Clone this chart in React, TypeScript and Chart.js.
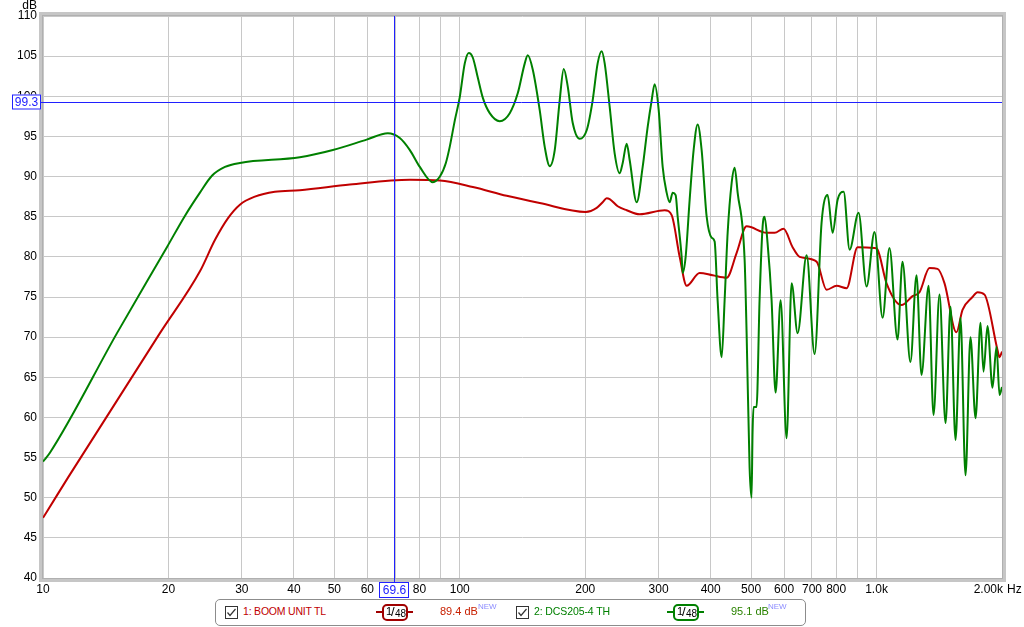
import React, { useEffect, useRef } from 'react';
import { Chart, registerables } from 'chart.js';

Chart.register(...registerables);

const W = 1024;
const H = 627;
const FONT = "'Liberation Sans', Arial, sans-serif";

// Series 2: DCS205-4 TH (green)
const freqGreen = [10, 10.39, 15.05, 19.83, 21.9, 23.8, 25.43, 27.33, 29.68, 41.33, 49.6, 59.8, 67.2, 71.8, 75.9, 80.2, 86.2, 89.6, 92.6, 94.6, 97.3, 100, 102.8, 105.1, 107.5, 110.5, 113.6, 118.0, 124.7, 131.8, 137.8, 143.2, 145.6, 149.7, 155.5, 159.9, 164.4, 169.0, 173.7, 177.6, 181.6, 186.6, 194.0, 201.7, 208.4, 214.2, 219.0, 222.7, 228.9, 235.3, 241.9, 246.0, 251.5, 255.6, 265.8, 274.7, 282.4, 288.7, 293.5, 300.1, 306.8, 313.6, 318.9, 324.2, 329.6, 333.3, 340.7, 342.6, 348.3, 356.1, 364.0, 372.2, 380.5, 391.2, 402.0, 408.8, 415.6, 425.0, 432.0, 439.3, 449.1, 456.6, 464.2, 482.5, 487.8, 495.9, 501.3, 504.1, 506.9, 515.3, 524.0, 532.8, 538.7, 547.7, 560.0, 572.5, 588.6, 608.4, 625.5, 646.6, 679.5, 710.2, 738.2, 763.1, 784.5, 806.5, 833.7, 861.8, 905.5, 946.3, 989.0, 1034, 1074, 1123, 1154, 1206, 1247, 1282, 1333, 1370, 1416, 1464, 1505, 1547, 1590, 1635, 1680, 1728, 1776, 1806, 1846, 1898, 1940, 1973, 2000];
const dbGreen = [54.5, 55.6, 70.5, 81.2, 85.1, 88.0, 90.1, 91.2, 91.7, 92.4, 93.3, 94.6, 95.4, 94.8, 93.3, 91.2, 89.3, 90.0, 91.7, 93.7, 97.0, 99.9, 104.1, 105.4, 104.8, 102.3, 99.8, 97.9, 96.9, 97.9, 100.4, 104.1, 105.1, 103.3, 98.3, 93.7, 91.3, 93.3, 99.5, 103.4, 101.2, 96.7, 94.7, 95.8, 99.5, 104.1, 105.6, 104.1, 98.7, 92.9, 90.4, 91.7, 94.1, 92.1, 86.8, 91.2, 96.2, 99.5, 101.5, 98.3, 91.2, 88.0, 86.8, 88.0, 87.7, 85.0, 80.0, 78.0, 80.0, 87.1, 93.3, 96.5, 93.3, 85.0, 82.4, 81.9, 74.6, 67.5, 74.6, 83.0, 89.2, 91.1, 88.0, 79.6, 70.5, 53.8, 50.0, 58.1, 61.3, 61.3, 74.6, 83.7, 85.0, 81.7, 74.6, 63.1, 74.6, 57.4, 76.7, 70.5, 80.2, 67.9, 84.3, 87.7, 83.0, 87.1, 88.1, 80.9, 85.5, 76.3, 83.1, 72.4, 81.1, 69.7, 79.4, 66.9, 77.7, 65.3, 76.4, 60.3, 75.3, 59.3, 73.8, 57.2, 72.4, 52.8, 70.0, 59.9, 71.8, 65.7, 71.4, 63.7, 68.8, 62.8, 63.8];

// Series 1: BOOM UNIT TL (red)
const freqRed = [10, 10.17, 11.48, 19.08, 23.8, 25.85, 27.77, 29.68, 32.24, 36.0, 41.33, 54.5, 75.9, 89.6, 107.5, 129.6, 155.5, 200.5, 213.1, 220.2, 225.1, 228.9, 239.3, 251.5, 270.2, 310.2, 322.4, 337.0, 350.3, 376.3, 404.4, 436.9, 461.7, 487.8, 544.7, 569.4, 598.4, 628.9, 653.8, 718.0, 758.9, 802.1, 847.7, 900.6, 989.0, 1005.5, 1057, 1148, 1220, 1268, 1340, 1401, 1456, 1555, 1608, 1699, 1747, 1816, 1951, 1973, 2000];
const dbRed = [47.5, 48.1, 52.5, 70.5, 78.2, 82.1, 84.8, 86.5, 87.5, 88.1, 88.3, 89.0, 89.6, 89.5, 88.7, 87.6, 86.7, 85.6, 86.1, 86.8, 87.3, 87.2, 86.3, 85.8, 85.3, 85.8, 85.2, 80.0, 76.4, 78.0, 77.7, 77.4, 80.5, 83.8, 83.0, 83.0, 83.5, 81.2, 80.0, 79.4, 75.9, 76.4, 76.1, 81.2, 81.1, 80.9, 76.7, 74.0, 75.1, 75.6, 78.6, 78.5, 76.7, 70.6, 73.4, 75.0, 75.6, 75.3, 68.4, 67.5, 68.2];

const xTickValues = [10, 20, 30, 40, 50, 60, 70, 80, 90, 100, 200, 300, 400, 500, 600, 700, 800, 900, 1000, 2000];
const xTickLabels = ['10', '20', '30', '40', '50', '60', '70', '80', '', '100', '200', '300', '400', '500', '600', '700', '800', '', '1.0k', ''];
const yTickValues = [40, 45, 50, 55, 60, 65, 70, 75, 80, 85, 90, 95, 100, 105, 110];

const cursorFreq = 69.6;
const cursorDb = 99.3;

const RED = '#c00000';
const GREEN = '#008000';
const BLUE = '#2020ff';

const overlayPlugin = {
  id: 'overlay',
  afterDraw(chart: any) {
    const { ctx, chartArea: a, scales } = chart;
    ctx.save();
    // frame
    ctx.strokeStyle = '#c6c6c6';
    ctx.lineWidth = 4;
    ctx.strokeRect(a.left - 2, a.top - 2, a.right - a.left + 4, a.bottom - a.top + 4);
    ctx.strokeStyle = '#b0b0b0';
    ctx.lineWidth = 1;
    ctx.strokeRect(a.left - 0.5, a.top - 0.5, a.right - a.left + 1, a.bottom - a.top + 1);

    // cursor lines
    const cx = Math.round(scales.x.getPixelForValue(cursorFreq)) + 0.5;
    const cy = Math.round(scales.y.getPixelForValue(cursorDb)) + 0.5;
    ctx.strokeStyle = BLUE;
    ctx.lineWidth = 1;
    ctx.beginPath();
    ctx.moveTo(cx, a.top);
    ctx.lineTo(cx, a.bottom + 5);
    ctx.stroke();
    ctx.beginPath();
    ctx.moveTo(a.left - 2, cy);
    ctx.lineTo(a.right, cy);
    ctx.stroke();

    ctx.font = `12px ${FONT}`;
    ctx.textAlign = 'center';
    ctx.textBaseline = 'middle';
    // y cursor label
    ctx.fillStyle = '#fff';
    ctx.fillRect(12, cy - 8, 29, 15);
    ctx.strokeRect(12.5, cy - 7.5, 28, 14);
    ctx.fillStyle = BLUE;
    ctx.fillText(String(cursorDb), 26.5, cy + 0.5);
    // x cursor label
    ctx.fillStyle = '#fff';
    ctx.fillRect(cx - 15.5, a.bottom + 4, 30, 16);
    ctx.strokeRect(cx - 15, a.bottom + 4.5, 29, 15);
    ctx.fillStyle = BLUE;
    ctx.fillText(String(cursorFreq), cx, a.bottom + 12.5);

    // axis unit labels
    ctx.fillStyle = '#000';
    ctx.textAlign = 'right';
    ctx.fillText('dB', 37, 6);
    ctx.fillText('2.00k', a.right + 1, a.bottom + 12);
    ctx.textAlign = 'left';
    ctx.fillText('Hz', a.right + 5, a.bottom + 12);
    ctx.restore();
  },
};

function CheckBox({ left }: { left: number }) {
  return (
    <svg width={13} height={13} style={{ position: 'absolute', left, top: 6 }}>
      <rect x={0.5} y={0.5} width={12} height={12} fill="#fff" stroke="#333" strokeWidth={1} />
      <polyline points="2.5,6.5 5,9.5 10.5,3" fill="none" stroke="#333" strokeWidth={1.2} />
    </svg>
  );
}

function Badge({ left, color }: { left: number; color: string }) {
  return (
    <div style={{ position: 'absolute', left, top: 4, width: 37, height: 17 }}>
      <div style={{ position: 'absolute', left: 0, top: 7, width: 37, height: 2, background: color }} />
      <div
        style={{
          position: 'absolute', left: 6, top: 0, width: 26, height: 17, boxSizing: 'border-box',
          border: `2px solid ${color}`, borderRadius: 5, background: '#fff',
        }}
      >
        <span style={{ position: 'absolute', left: 2, top: -1, fontSize: 11, lineHeight: '12px', color: '#000', fontFamily: FONT }}>1</span>
        <span style={{ position: 'absolute', left: 7, top: -1, fontSize: 13, lineHeight: '14px', color: '#000', fontFamily: FONT }}>/</span>
        <span style={{ position: 'absolute', left: 11, top: 2, fontSize: 10, lineHeight: '12px', color: '#000', fontFamily: FONT }}>48</span>
      </div>
    </div>
  );
}

export default function App() {
  const ref = useRef<HTMLCanvasElement>(null);

  useEffect(() => {
    document.body.style.margin = '0';
    const canvas = ref.current;
    if (!canvas) return;
    const greenData = freqGreen.map((f, i) => ({ x: f, y: dbGreen[i] }));
    const redData = freqRed.map((f, i) => ({ x: f, y: dbRed[i] }));
    const chart = new Chart(canvas, {
      type: 'line',
      data: {
        datasets: [
          {
            label: '2: DCS205-4 TH',
            data: greenData,
            borderColor: GREEN,
            borderWidth: 2,
            pointRadius: 0,
            cubicInterpolationMode: 'monotone',
            order: 0,
          },
          {
            label: '1: BOOM UNIT TL',
            data: redData,
            borderColor: RED,
            borderWidth: 2,
            pointRadius: 0,
            cubicInterpolationMode: 'monotone',
            order: 1,
          },
        ],
      },
      options: {
        responsive: false,
        animation: false,
        devicePixelRatio: 1,
        layout: { padding: { left: 0, right: 22, top: 16, bottom: 0 } },
        plugins: { legend: { display: false }, tooltip: { enabled: false } },
        scales: {
          x: {
            type: 'logarithmic',
            min: 10,
            max: 2000,
            afterBuildTicks: (s: any) => {
              s.ticks = xTickValues.map((v) => ({ value: v }));
            },
            afterFit: (s: any) => {
              s.height = 49;
            },
            grid: { color: '#c8c8c8', lineWidth: 1, drawTicks: false },
            border: { display: false },
            ticks: {
              autoSkip: false,
              maxRotation: 0,
              padding: 4,
              color: '#000',
              font: { family: FONT, size: 12 },
              callback: (v: any) => {
                const i = xTickValues.indexOf(Number(v));
                return i >= 0 ? xTickLabels[i] : '';
              },
            },
          },
          y: {
            type: 'linear',
            min: 40,
            max: 110,
            afterBuildTicks: (s: any) => {
              s.ticks = yTickValues.map((v) => ({ value: v }));
            },
            afterFit: (s: any) => {
              s.width = 43;
            },
            grid: { color: '#c8c8c8', lineWidth: 1, drawTicks: false },
            border: { display: false },
            ticks: {
              padding: 6,
              color: '#000',
              font: { family: FONT, size: 12 },
              callback: (v: any) => String(v),
            },
          },
        },
      },
      plugins: [overlayPlugin],
    } as any);
    return () => chart.destroy();
  }, []);

  const txt = (extra: any) => ({
    position: 'absolute' as const,
    top: 5,
    fontFamily: FONT,
    fontSize: 11,
    lineHeight: '13px',
    whiteSpace: 'nowrap' as const,
    ...extra,
  });

  return (
    <div style={{ position: 'relative', width: W, height: H, background: '#fff', overflow: 'hidden' }}>
      <canvas ref={ref} width={W} height={H} style={{ position: 'absolute', left: 0, top: 0, width: W, height: H }} />
      <div
        style={{
          position: 'absolute', left: 215, top: 599, width: 591, height: 27, boxSizing: 'border-box',
          border: '1px solid #8c8c8c', borderRadius: 5, background: '#fff',
        }}
      >
        <CheckBox left={9} />
        <span style={txt({ left: 27, color: RED, fontSize: 10.5, letterSpacing: '-0.2px' })}>1: BOOM UNIT TL</span>
        <Badge left={160} color="#a00000" />
        <span style={txt({ left: 224, color: '#c82000' })}>89.4 dB</span>
        <span style={txt({ left: 262, top: 0, fontSize: 8, color: '#8c8cff' })}>NEW</span>
        <CheckBox left={300} />
        <span style={txt({ left: 318, color: GREEN, fontSize: 10.5, letterSpacing: '-0.1px' })}>2: DCS205-4 TH</span>
        <Badge left={451} color={GREEN} />
        <span style={txt({ left: 515, color: '#2a8200' })}>95.1 dB</span>
        <span style={txt({ left: 552, top: 0, fontSize: 8, color: '#8c8cff' })}>NEW</span>
      </div>
    </div>
  );
}
